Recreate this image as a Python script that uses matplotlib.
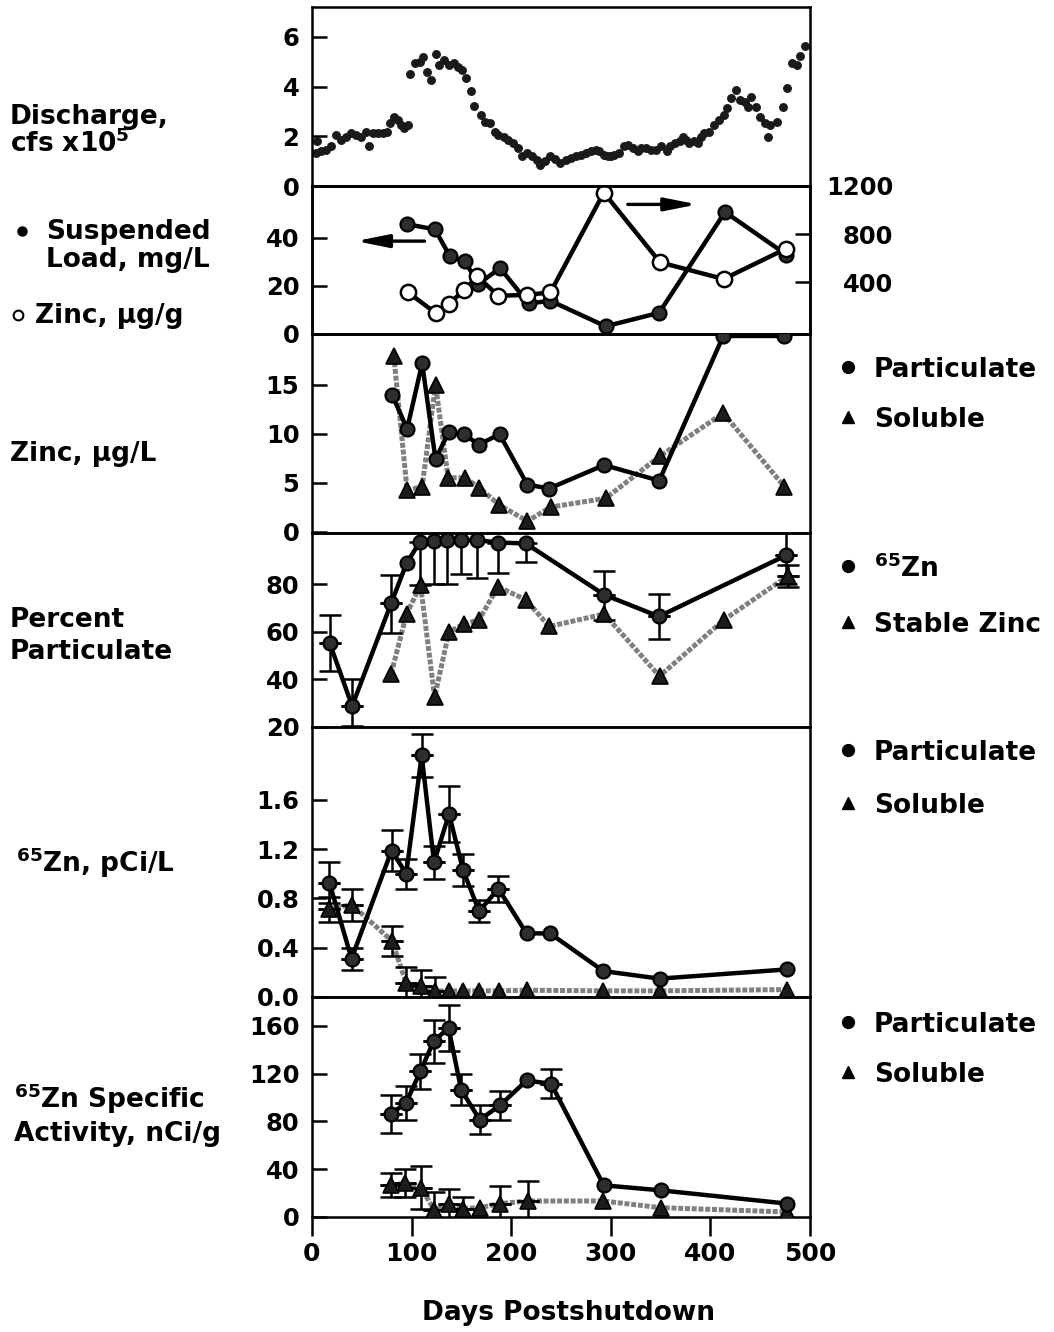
import matplotlib
matplotlib.use('Agg')
import matplotlib.pyplot as plt
from matplotlib.lines import Line2D
import numpy as np

plt.rcParams['font.family'] = ['DejaVu Sans']
plt.rcParams['font.weight'] = 'bold'
plt.rcParams['mathtext.fontset'] = 'dejavusans'
plt.rcParams['mathtext.default'] = 'bf'

# ---------------- data ----------------
# Discharge (cfs x 1e5)
q_days = [3.7, 5.4, 8.8, 13.8, 18.9, 23.9, 29, 34, 39, 44, 49, 54, 57.6, 61, 66, 71, 75, 78, 82, 86,
          89.5, 92, 96, 98, 103, 108, 111, 115, 119, 124, 128, 133, 138, 143, 147, 151, 155, 160, 163,
          170, 174, 179, 184, 187, 193, 197, 202, 207, 211, 216, 221, 226, 229, 234, 239, 244, 249,
          255, 260, 265, 270, 275, 280, 285, 288, 293, 297, 300, 303, 308, 313, 317, 322, 327, 330,
          335, 340, 345, 350, 356, 359, 364, 369, 372, 376, 379, 384, 388, 391, 394, 399, 404, 409,
          414, 417, 421, 426, 430, 435, 438, 441, 446, 450, 455, 458, 460, 467, 473, 477, 482, 487,
          490, 495]
q_vals = [1.33, 1.79, 1.39, 1.46, 1.59, 2.06, 1.86, 1.99, 2.13, 2.06, 1.99, 2.19, 1.59, 2.13, 2.13,
          2.13, 2.19, 2.53, 2.79, 2.66, 2.46, 2.33, 2.46, 4.5, 4.93, 5.0, 5.19, 4.59, 4.26, 5.3, 4.86,
          5.06, 4.86, 4.93, 4.79, 4.66, 4.33, 3.83, 3.22, 2.86, 2.59, 2.53, 2.19, 2.06, 1.99, 1.86,
          1.73, 1.53, 1.19, 1.33, 1.19, 1.06, 0.86, 0.99, 1.19, 1.09, 0.93, 1.06, 1.13, 1.19, 1.26,
          1.33, 1.39, 1.46, 1.39, 1.26, 1.19, 1.19, 1.26, 1.33, 1.59, 1.66, 1.53, 1.39, 1.53, 1.53,
          1.46, 1.46, 1.59, 1.39, 1.59, 1.73, 1.79, 1.97, 1.86, 1.73, 1.79, 1.73, 1.99, 2.13, 2.19,
          2.46, 2.66, 2.86, 3.13, 3.53, 3.86, 3.46, 3.39, 3.19, 3.59, 3.19, 2.79, 2.53, 1.99, 2.46,
          2.59, 3.19, 3.93, 4.93, 4.86, 5.22, 5.62]

# Suspended load (mg/L) and zinc on particles (ug/g)
ss_days = [95.5, 123.4, 138.5, 153.6, 167, 188.9, 217.4, 239.3, 294.8, 348.5, 414.7, 476.2]
ss_vals = [45.6, 43.5, 32.3, 30.2, 20.8, 27.4, 12.7, 13.8, 3.2, 8.8, 50.7, 33.0]
znp_days = [96.5, 124.4, 137.5, 152.9, 166, 187.2, 215.7, 239.3, 293, 349.5, 413.3, 475.5]
znp_vals = [315, 143, 220, 337, 448, 287, 296, 315, 1145, 565, 427, 677]

# Zinc ug/L
zp_days = [80.4, 95.5, 110.6, 124, 137.4, 152.5, 167.6, 188.3, 216.2, 238, 293.3, 348.6, 412.9, 474.2]
zp_vals = [14.0, 10.5, 17.2, 7.4, 10.2, 9.95, 8.9, 9.95, 4.8, 4.4, 6.8, 5.2, 20.0, 20.0]
zs_days = [82.1, 95.5, 110.6, 124, 136.7, 153.5, 167.6, 187.7, 216.2, 239.6, 294.9, 349.2, 412.9, 474.2]
zs_vals = [18.0, 4.2, 4.6, 15.0, 5.5, 5.5, 4.5, 2.75, 1.06, 2.5, 3.4, 7.7, 12.1, 4.6]

# Percent particulate
pz_days = [17.7, 40.3, 79.5, 94.9, 108.3, 122.4, 135.9, 150, 165.4, 186.8, 214.7, 293.5, 348.3, 476.4]
pz_vals = [55.4, 28.8, 72.1, 88.8, 97.9, 98.2, 98.6, 98.6, 98.6, 97.6, 97.2, 75.6, 66.5, 92.3]
pz_lo = [12, 8.3, 12.6, 0, 18, 18.2, 18.6, 14.4, 16.1, 12.7, 8, 10.5, 9.5, 12]
pz_hi = [11.8, 11.2, 11.8, 0, 0, 0, 0, 0, 0, 0, 0, 10, 9.4, 12]
ps_days = [79.5, 94.9, 109, 123.1, 137.5, 152.6, 167.7, 186.8, 214.7, 238.2, 293.5, 348.9, 413.7, 478.2]
ps_vals = [42.4, 67.5, 79.7, 32.6, 60, 63.3, 65.1, 79, 73.5, 62.3, 67.5, 41.4, 65.1, 83.6]
ps_err = [0, 0, 0, 0, 0, 0, 0, 0, 0, 0, 0, 0, 0, 4.6]

# 65Zn pCi/L
cp_days = [17.5, 39.7, 79.9, 94.6, 110.1, 122.5, 137.6, 151.7, 167.8, 187.2, 215.4, 239, 292.6, 349, 477.2]
cp_vals = [0.926, 0.311, 1.188, 1.0, 1.96, 1.093, 1.485, 1.028, 0.696, 0.878, 0.516, 0.516, 0.21, 0.149, 0.224]
cp_err = [0.167, 0.09, 0.17, 0.12, 0.175, 0.135, 0.23, 0.13, 0.09, 0.107, 0, 0, 0, 0, 0]
cs_days = [17.5, 39.7, 80.5, 94.6, 109.1, 123.5, 137.6, 151.7, 167.8, 188, 215.4, 292.6, 349.6, 477]
cs_vals = [0.71, 0.75, 0.453, 0.111, 0.089, 0.049, 0.049, 0.049, 0.05, 0.05, 0.055, 0.05, 0.05, 0.06]
cs_err = [0.1, 0.13, 0.12, 0.13, 0.13, 0.11, 0, 0, 0, 0, 0, 0, 0, 0]

# 65Zn specific activity nCi/g
sp_days = [79.1, 94.3, 108.8, 122.2, 137.1, 149.8, 168.4, 188.6, 215.5, 240.1, 292.9, 350.2, 477.1]
sp_vals = [86.3, 95.2, 121.9, 147, 158.2, 106.4, 81.3, 93.3, 114.2, 111.4, 26.5, 22.3, 11.2]
sp_err = [15.7, 14, 14.5, 18, 19.5, 13, 12, 12, 0, 12, 0, 0, 0]
ss2_days = [79.8, 93.2, 109.4, 122.9, 137.1, 151.5, 168.4, 188.6, 217.2, 291.9, 350.2, 477.1]
ss2_vals = [26.5, 28.4, 24.5, 5.6, 11.2, 7, 7.8, 11.2, 13.4, 13.4, 7.8, 4.2]
ss2_err = [10, 12, 18, 15, 12, 10, 0, 15, 17, 0, 0, 0]

x_ticks = [0, 100, 200, 300, 400, 500]

# ---------------- layout ----------------
W, H = 1054, 1332
fig = plt.figure(figsize=(W / 100, H / 100), dpi=100)
L, R = 312, 810


def box(top, bottom):
    return [L / W, 1 - bottom / H, (R - L) / W, (bottom - top) / H]


SP_LW = 1.8
LBL = 17.5


def style(ax, yticks, ylabels, ylim, bottom=False):
    ax.set_xlim(0, 500)
    ax.set_ylim(*ylim)
    ax.set_yticks(yticks)
    ax.set_yticklabels(ylabels)
    ax.tick_params(axis='y', direction='in', length=11, width=SP_LW, labelsize=LBL, pad=9)
    for s in ax.spines.values():
        s.set_linewidth(SP_LW)
    if bottom:
        ax.set_xticks(x_ticks)
        ax.tick_params(axis='x', direction='out', length=14, width=SP_LW, labelsize=18, pad=4)
    else:
        ax.tick_params(axis='x', bottom=False, labelbottom=False)
    ax.patch.set_alpha(0)


LINE = dict(color='black', lw=3.2, solid_capstyle='round')
GRAY = dict(color='#808080', lw=3.6, ls=(0, (1.0, 0.35)))
CIRC = dict(marker='o', ms=10, mfc='#2e2e2e', mec='black', mew=1.6, ls='none')
TRI = dict(marker='^', ms=11, mfc='#1c1c1c', mec='black', mew=1.2, ls='none')
EB = dict(fmt='none', ecolor='black', elinewidth=1.8, capsize=8, capthick=1.8)


def errbars(ax, x, y, lo, hi=None):
    if hi is None:
        hi = lo
    x = np.array(x); y = np.array(y); lo = np.array(lo); hi = np.array(hi)
    mlo = lo > 0
    ax.errorbar(x[mlo], y[mlo], yerr=[lo[mlo], np.zeros(mlo.sum())], **EB)
    mhi = hi > 0
    ax.errorbar(x[mhi], y[mhi], yerr=[np.zeros(mhi.sum()), hi[mhi]], **EB)


ARROW = dict(arrowstyle='-|>,head_length=1.5,head_width=0.3', lw=2.4, color='black',
             mutation_scale=13, shrinkA=0, shrinkB=0)

# Panel 1: discharge
ax1 = fig.add_axes(box(7, 186))
ax1.plot(q_days, q_vals, marker='o', ms=5.4, color='#1a1a1a', ls='none')
style(ax1, [0, 2, 4, 6], ['0', '2', '4', '6'], (0, 7.2))

# Panel 2: suspended load & zinc ug/g
ax2 = fig.add_axes(box(186, 334))
ax2.plot(ss_days, ss_vals, **LINE)
ax2.plot(ss_days, ss_vals, **CIRC, zorder=5)
style(ax2, [0, 20, 40], ['0', '20', '40'], (0, 61.5))
ax2b = ax2.twinx()
ax2b.set_xlim(0, 500)
ax2b.plot(znp_days, znp_vals, **LINE)
ax2b.plot(znp_days, znp_vals, marker='o', ms=11, mfc='white', mec='black', mew=1.8, ls='none')
ax2b.set_ylim(-30, 1200)
ax2b.set_yticks([400, 800, 1200])
ax2b.set_yticklabels(['400', '800', '1200'])
ax2b.tick_params(axis='y', direction='in', length=11, width=SP_LW, labelsize=LBL, pad=60)
for lb in ax2b.get_yticklabels():
    lb.set_horizontalalignment('right')
for s in ax2b.spines.values():
    s.set_linewidth(SP_LW)
ax2.annotate('', xy=(44, 38.6), xytext=(113, 38.6), arrowprops=ARROW)
ax2b.annotate('', xy=(387, 1047), xytext=(317, 1047), arrowprops=ARROW)

# Panel 3: zinc ug/L
ax3 = fig.add_axes(box(334, 533))
ax3.plot(zs_days, zs_vals, **GRAY)
ax3.plot(zp_days, zp_vals, **LINE)
ax3.plot(zs_days, zs_vals, **TRI, zorder=5)
ax3.plot(zp_days, zp_vals, **CIRC, zorder=6)
style(ax3, [0, 5, 10, 15], ['0', '5', '10', '15'], (-0.15, 20.2))

# Panel 4: percent particulate
ax4 = fig.add_axes(box(533, 727))
ax4.plot(ps_days, ps_vals, **GRAY)
ax4.plot(pz_days, pz_vals, **LINE)
errbars(ax4, pz_days, pz_vals, pz_lo, pz_hi)
errbars(ax4, ps_days, ps_vals, ps_err)
ax4.plot(ps_days, ps_vals, **TRI, zorder=5)
ax4.plot(pz_days, pz_vals, **CIRC, zorder=6)
style(ax4, [20, 40, 60, 80], ['20', '40', '60', '80'], (20, 101.6))

# Panel 5: 65Zn pCi/L
ax5 = fig.add_axes(box(727, 997))
ax5.plot(cs_days, cs_vals, **GRAY)
ax5.plot(cp_days, cp_vals, **LINE)
errbars(ax5, cp_days, cp_vals, cp_err)
errbars(ax5, cs_days, cs_vals, cs_err)
ax5.plot(cs_days, cs_vals, **TRI, zorder=5)
ax5.plot(cp_days, cp_vals, **CIRC, zorder=6)
style(ax5, [0, 0.4, 0.8, 1.2, 1.6], ['0.0', '0.4', '0.8', '1.2', '1.6'], (0, 2.19))

# Panel 6: specific activity
ax6 = fig.add_axes(box(997, 1217))
ax6.plot(ss2_days, ss2_vals, **GRAY)
ax6.plot(sp_days, sp_vals, **LINE)
errbars(ax6, sp_days, sp_vals, sp_err)
errbars(ax6, ss2_days, ss2_vals, ss2_err)
ax6.plot(ss2_days, ss2_vals, **TRI, zorder=5)
ax6.plot(sp_days, sp_vals, **CIRC, zorder=6)
style(ax6, [0, 40, 80, 120, 160], ['0', '40', '80', '120', '160'], (0, 184), bottom=True)


# ---------------- text ----------------
def ftxt(x, y, s, size=19, ha='left'):
    fig.text(x / W, 1 - y / H, s, fontsize=size, fontweight='bold', ha=ha, va='baseline')


def fmark(x, y, **kw):
    fig.add_artist(Line2D([x / W], [1 - y / H], transform=fig.transFigure, ls='none', **kw))


ftxt(10, 124, 'Discharge,')
ftxt(10, 152, r'cfs x10$^{5}$')
fmark(22, 231, marker='o', ms=6.5, color='black')
ftxt(46, 239, 'Suspended')
ftxt(46, 267, 'Load, mg/L')
fmark(18, 315, marker='o', ms=7, mfc='white', mec='black', mew=1.5)
ftxt(35, 323, 'Zinc, \u00b5g/g')
ftxt(10, 461, 'Zinc, \u00b5g/L')
ftxt(10, 627, 'Percent')
ftxt(10, 659, 'Particulate')
ftxt(16, 872, r'$^{65}$Zn, pCi/L')
ftxt(14, 1108, r'$^{65}$Zn Specific')
ftxt(14, 1141, 'Activity, nCi/g')

legend_rows = [
    (367, 'o', 'Particulate'), (417, '^', 'Soluble'),
    (566, 'o', r'$^{65}$Zn'), (622, '^', 'Stable Zinc'),
    (750, 'o', 'Particulate'), (803, '^', 'Soluble'),
    (1022, 'o', 'Particulate'), (1072, '^', 'Soluble'),
]
for yy, mk, lab in legend_rows:
    fmark(848, yy, marker=mk, ms=8.5, color='black')
    ty = yy + 11 if lab == r'$^{65}$Zn' else yy + 10
    ftxt(874, ty, lab)

ftxt(568, 1320, 'Days Postshutdown', ha='center')

fig.savefig('out.png', dpi=100)
